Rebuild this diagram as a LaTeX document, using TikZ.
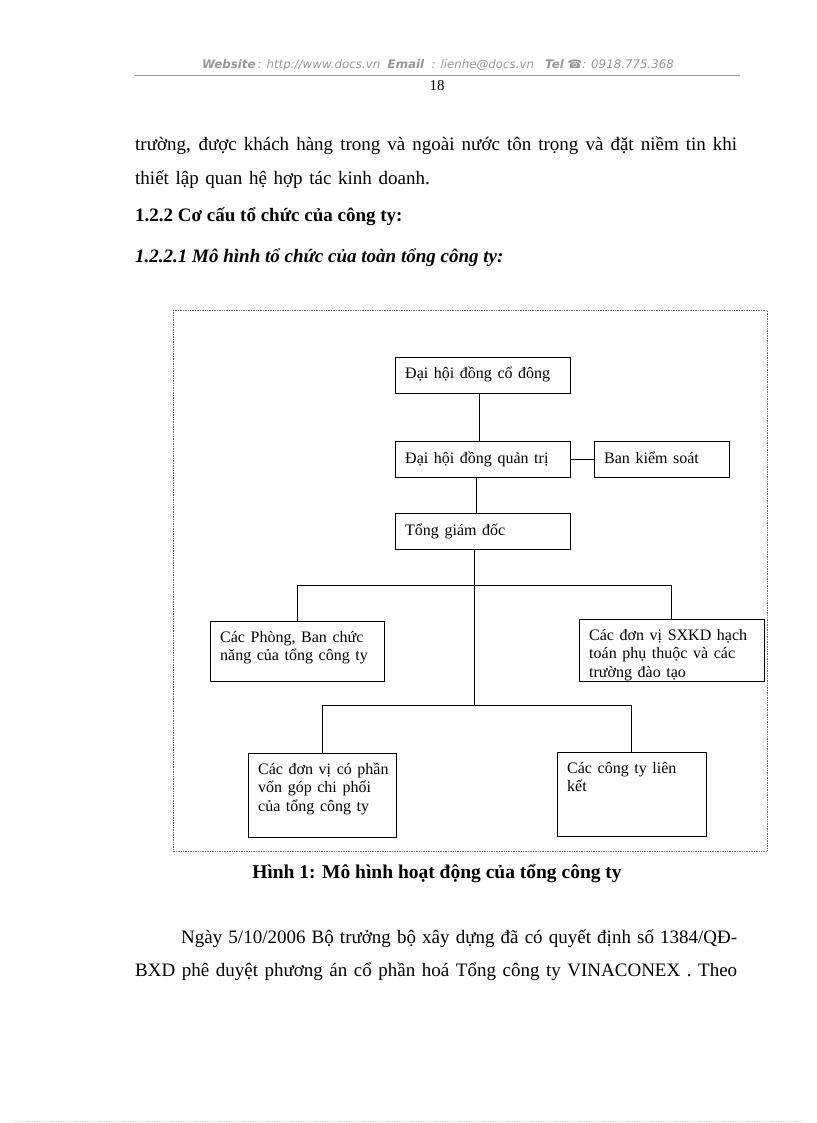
\documentclass[tikz,border=0pt]{standalone}
\usepackage{fontspec}
\setmainfont{Liberation Serif}
\newfontfamily\hdrfont{DejaVu Sans}
\newfontfamily\widefont[WordSpace=1.85]{Liberation Serif}
\newfontfamily\boxfont[WordSpace=1.4]{Liberation Serif}
\usetikzlibrary{calc}
\definecolor{hdrgray}{RGB}{150,150,150}
\definecolor{framegray}{RGB}{110,110,110}
\tikzset{
  box/.style={draw, line width=0.9pt, inner sep=0pt, outer sep=0pt, anchor=north west},
  conn/.style={line width=0.9pt},
  btxt/.style={inner sep=0pt, anchor=base west, font=\boxfont\fontsize{16}{18.5}\selectfont},
  body/.style={inner sep=0pt, anchor=base west, font=\fontsize{19}{22}\selectfont},
}
\newcommand{\bparb}[1]{\parbox[t]{200pt}{\raggedright #1}}
\begin{document}
\begin{tikzpicture}[x=1pt,y=-1pt]
\useasboundingbox[fill=white] (0,0) rectangle (816,1123);

% header
\node[inner sep=0pt, anchor=base, text=hdrgray, font=\hdrfont\itshape\fontsize{11.8}{13}\selectfont] (hdr) at (438,69)
  {\textbf{Website}\,: http://www.docs.vn\ \ \textbf{Email}\ \ : lienhe@docs.vn\ \ \ \textbf{Tel}\ ☎: 0918.775.368};
\draw[hdrgray, line width=0.6pt] (135,75) -- (740,75);
\node[inner sep=0pt, anchor=base, font=\fontsize{15}{18}\selectfont] (pg) at (437,91) {18};

% body text
\node[body] (l1) at (135,151) {\makebox[602pt][s]{trường, được khách hàng trong và ngoài nước tôn trọng và đặt niềm tin khi}};
\node[body, font=\widefont\fontsize{19}{22}\selectfont] (l2) at (135,185) {thiết lập quan hệ hợp tác kinh doanh.};
\node[body, font=\fontsize{19}{22}\selectfont\bfseries] (h1) at (135,222) {1.2.2 Cơ cấu tổ chức của công ty:};
\node[body, font=\fontsize{19}{22}\selectfont\bfseries\itshape] (h2) at (135,262) {1.2.2.1 Mô hình tổ chức của toàn tổng công ty:};

% frame
\draw[framegray, densely dotted, line width=0.7pt] (173,310) rectangle (767,851);

% boxes
\node[box, minimum width=175pt, minimum height=36pt] (b1) at (395,357) {};
\node[box, minimum width=175pt, minimum height=36pt] (b2) at (395,441) {};
\node[box, minimum width=135pt, minimum height=36pt] (b3) at (594,441) {};
\node[box, minimum width=175pt, minimum height=36pt] (b4) at (395,513) {};
\node[box, minimum width=174pt, minimum height=60pt] (b5) at (210,621) {};
\node[box, minimum width=185pt, minimum height=62pt] (b6) at (579,619) {};
\node[box, minimum width=148pt, minimum height=84pt] (b7) at (248,753) {};
\node[box, minimum width=149pt, minimum height=84pt] (b8) at (557,752) {};

% box texts
\node[btxt] (t1) at (405,378) {Đại hội đồng cổ đông};
\node[btxt] (t2) at (405,463) {Đại hội đồng quản trị};
\node[btxt] (t3) at (604,463) {Ban kiểm soát};
\node[btxt] (t4) at (405,535) {Tổng giám đốc};
\node[btxt] (t5) at (220,642) {\bparb{Các Phòng, Ban chức\\năng của tổng công ty}};
\begin{scope}
\clip (b6.south west) rectangle (b6.north east);
\node[btxt] (t6) at (589,640) {\bparb{Các đơn vị SXKD hạch\\toán phụ thuộc và các\\trường đào tạo}};
\end{scope}
\draw[line width=0.9pt] (b6.south west) rectangle (b6.north east);
\node[btxt] (t7) at (258,774) {\bparb{Các đơn vị có phần\\vốn góp chi phối\\của tổng công ty}};
\node[btxt] (t8) at (567,773) {\bparb{Các công ty liên\\kết}};

% connectors
\coordinate (j1) at (474.5,585);
\coordinate (j2) at (474.5,705);
\draw[conn] ([xshift=-3.5pt]b1.south) -- ([xshift=-3.5pt]b1.south |- b2.north);
\draw[conn] (b2.east) -- (b3.west);
\draw[conn] ([xshift=-6.5pt]b2.south) -- ([xshift=-6.5pt]b2.south |- b4.north);
\draw[conn] (b4.south -| j1) -- (j2);
\draw[conn] (b5.north) -- (b5.north |- j1) -- (b6.north |- j1) -- (b6.north);
\draw[conn] (b7.north) -- (b7.north |- j2) -- (b8.north |- j2) -- (b8.north);

% caption
\node[body, anchor=base, font=\fontsize{19.5}{22}\selectfont\bfseries] (cap) at (437,878) {Hình 1: Mô hình hoạt động của tổng công ty};

% following paragraph
\node[body] (p1) at (181,943) {\makebox[556pt][s]{Ngày 5/10/2006 Bộ trưởng bộ xây dựng đã có quyết định số 1384/QĐ-}};
\node[body] (p2) at (135,976) {\makebox[602pt][s]{BXD phê duyệt phương án cổ phần hoá Tổng công ty VINACONEX . Theo}};

% faint page edge
\draw[gray!40, dotted, line width=0.4pt] (15,1121) -- (800,1121);
\end{tikzpicture}
\end{document}
